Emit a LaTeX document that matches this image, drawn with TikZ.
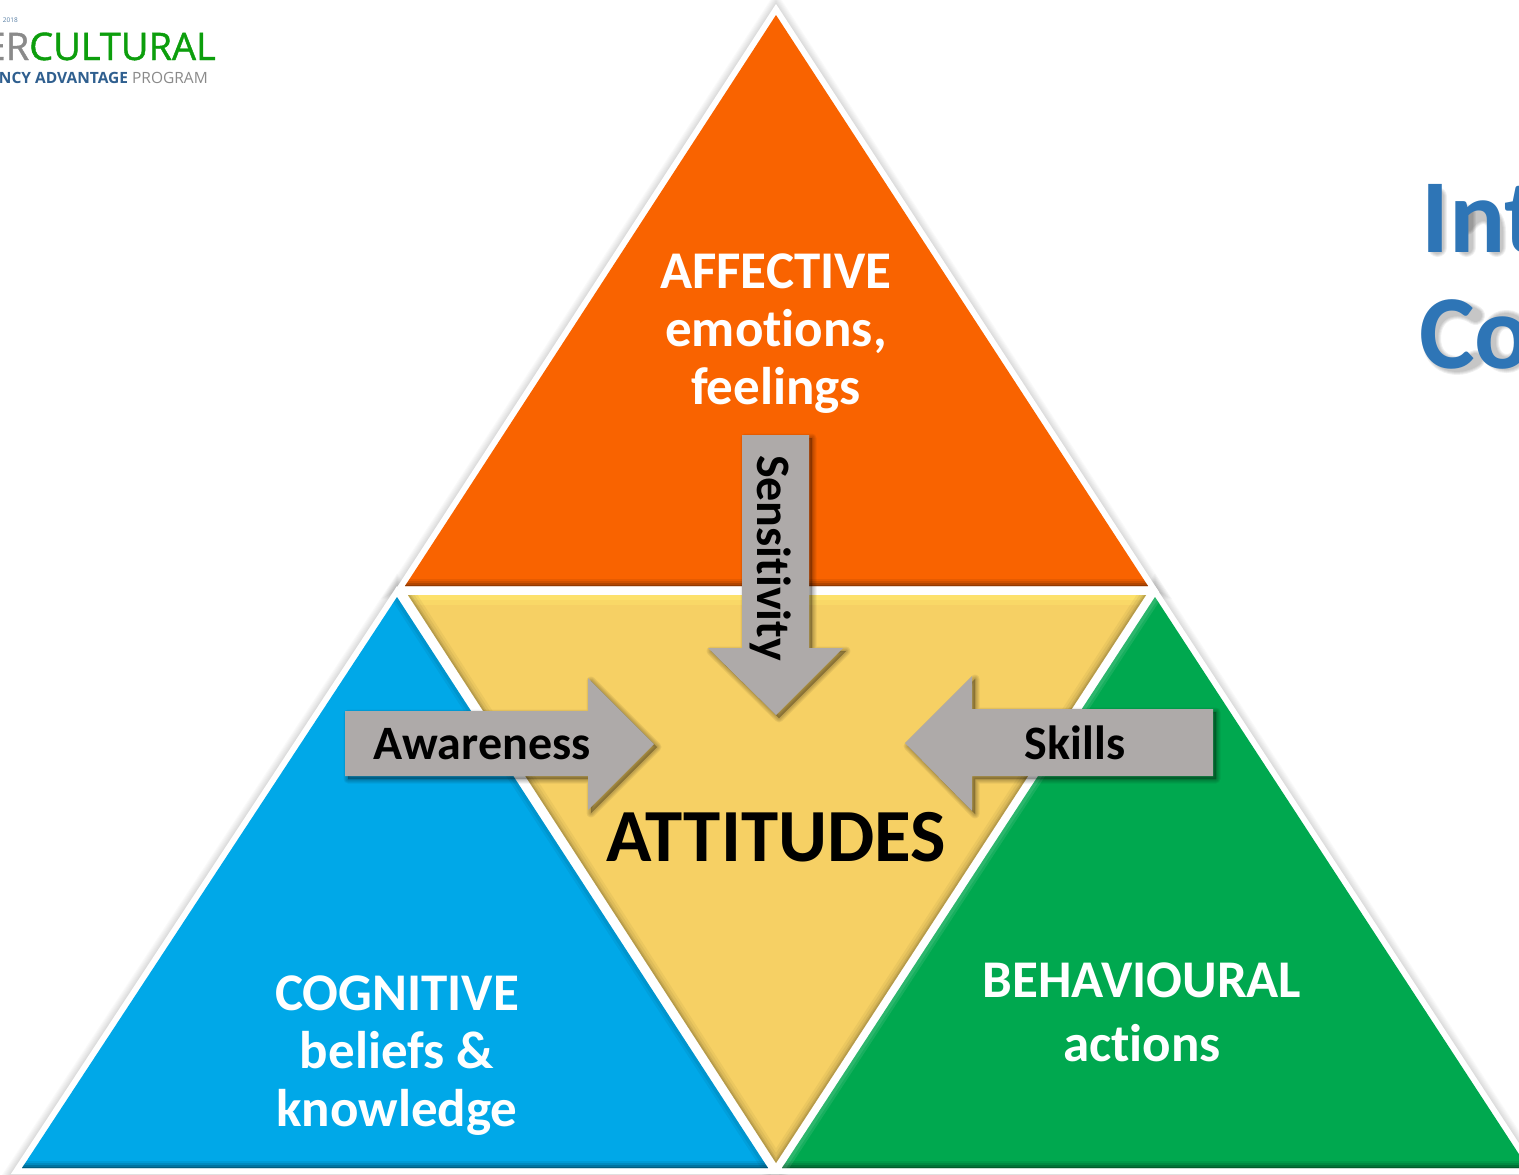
\documentclass[tikz,border=0pt]{standalone}
\usepackage{fontspec}
\setmainfont{Carlito}[Ligatures=NoCommon]
\newfontfamily\logofont{Open Sans}
\newfontfamily\logofontb{Open Sans}[FakeBold=1.1]
\usetikzlibrary{calc}
\definecolor{cOrange}{HTML}{F96300}
\definecolor{cBlue}{HTML}{00A8E8}
\definecolor{cGreen}{HTML}{00A84F}
\definecolor{cYellow}{HTML}{F6D064}
\definecolor{cYellowTop}{HTML}{FFE56D}
\definecolor{cGrey}{HTML}{AEAAA9}
\definecolor{cTitle}{HTML}{2E75B6}
\definecolor{cLogoGreen}{HTML}{0C9E0C}
\definecolor{cLogoBlue}{HTML}{2F5F8F}
\definecolor{cLogoGrey}{HTML}{8A8A8A}
\tikzset{
  lbl/.style={font=\bfseries\fontsize{53}{60}\selectfont,text=white,align=center,anchor=base,inner sep=0pt},
  arrowlbl/.style={font=\bfseries\fontsize{48}{52}\selectfont,text=black,anchor=base,inner sep=0pt},
  halo/.style={draw=black,opacity=.02,line join=miter,miter limit=20},
  rim/.style={draw=white,line width=12pt,line join=miter,miter limit=20},
  titleshade/.style={draw=black,opacity=.06,line cap=round},
}
\newcommand{\triOrange}{(776,15) -- (1148,586) -- (405,586) -- cycle}
\newcommand{\triBlue}{(397,597) -- (768,1168) -- (22,1168) -- cycle}
\newcommand{\triGreen}{(1155,597) -- (1528,1168) -- (782,1168) -- cycle}
\newcommand{\triYellow}{(408,595) -- (1146,595) -- (776,1163) -- cycle}
\newcommand{\arrAware}{(345,711) -- (588,711) -- (588,678) -- (654,744) -- (588,810) -- (588,776) -- (345,776) -- cycle}
\newcommand{\arrSkills}{(1213,709) -- (972,709) -- (972,676) -- (905,743) -- (972,811) -- (972,776) -- (1213,776) -- cycle}
\newcommand{\arrSens}{(742,435) -- (809,435) -- (809,648) -- (843,648) -- (776,715) -- (708,648) -- (742,648) -- cycle}
\newcommand{\softhalo}[1]{%
  \foreach \w in {26,24,22,20,18,16,14}{\path[halo,line width=\w pt] #1;}}
\newcommand{\softdrop}[1]{%
  \begin{scope}[shift={(3,3)}]
  \foreach \w in {9,7,5,3,1}{\fill[black,opacity=.06,draw=black,line width=\w pt,line join=round] #1;}
  \end{scope}}
\begin{document}
\begin{tikzpicture}[x=1pt,y=-1pt]
\useasboundingbox (0,0) rectangle (1519,1175);
\clip (0,0) rectangle (1519,1175);
\fill[white] (0,0) rectangle (1519,1175);
% logo
\node[anchor=base east,inner sep=0pt,font=\logofontb\fontsize{38}{38}\selectfont] (logoA) at (216,60)
  {\textcolor{cLogoGrey}{ER}\textcolor{cLogoGreen}{CULTURAL}};
\node[anchor=base east,inner sep=0pt,font=\logofont\bfseries\fontsize{15.5}{16}\selectfont] (logoB) at (208,83)
  {\textcolor{cLogoBlue}{NCY ADVANTAGE} \textcolor{cLogoGrey}{\mdseries PROGRAM}};
\node[anchor=base east,inner sep=0pt,font=\logofont\fontsize{6.5}{6.5}\selectfont,text=cLogoBlue!80] (logoC) at (18,22) {2018};
% title shadow, drawn as soft strokes under the letters
\begin{scope}[shift={(3.5,3.5)}]
  \foreach \w in {19,17,15,13}{
    \path[titleshade,line width=\w pt] (1434,193) -- (1434,244);
    \path[titleshade,line width=\w pt] (1463,210) -- (1463,244);
    \path[titleshade,line width=\w pt] (1463,222) .. controls (1475,205) and (1493,208) .. (1493,228) -- (1493,244);
    \path[titleshade,line width=\w pt] (1472,312) .. controls (1455,300) and (1428,306) .. (1428,335) .. controls (1428,362) and (1455,368) .. (1472,356);
    \path[titleshade,line width=\w pt] (1503,316) .. controls (1480,316) and (1480,360) .. (1503,360) .. controls (1526,360) and (1526,316) .. (1503,316);
  }
\end{scope}
% title
\node[anchor=base west,inner sep=0pt,font=\bfseries\fontsize{105}{105}\selectfont,text=cTitle] (titleA) at (1421,252) {Int};
\node[anchor=base west,inner sep=0pt,font=\bfseries\fontsize{105}{105}\selectfont,text=cTitle] (titleB) at (1419,368) {Co};
% halos and white rims
\softhalo{\triOrange}\softhalo{\triBlue}\softhalo{\triGreen}
\path[rim] \triOrange; \path[rim] \triBlue; \path[rim] \triGreen; \path[rim] \triYellow;
% orange
\fill[cOrange] \triOrange;
\begin{scope}
  \clip \triOrange;
  \foreach \w/\o in {14/.10,10/.14,6/.22,3/.3}{\draw[black!70!cOrange,opacity=\o,line width=\w pt] (405,586) -- (1148,586);}
\end{scope}
% blue
\fill[cBlue] \triBlue;
\begin{scope}
  \clip \triBlue;
  \foreach \w/\o in {14/.10,10/.16,6/.25,3/.35}{\draw[black!70!cBlue,opacity=\o,line width=\w pt] (22,1168) -- (768,1168);}
  \foreach \w/\o in {12/.07,7/.09}{\draw[black!70!cBlue,opacity=\o,line width=\w pt] (397,597) -- (768,1168);}
\end{scope}
% green
\fill[cGreen] \triGreen;
\begin{scope}
  \clip \triGreen;
  \foreach \w/\o in {14/.10,10/.16,6/.25,3/.35}{\draw[black!70!cGreen,opacity=\o,line width=\w pt] (782,1168) -- (1528,1168);}
  \foreach \w/\o in {12/.09,7/.09}{\draw[white,opacity=\o,line width=\w pt] (1155,597) -- (782,1168);}
\end{scope}
% yellow
\fill[cYellow] \triYellow;
\begin{scope}
  \clip \triYellow;
  \fill[cYellowTop,opacity=.4] (400,590) rectangle (1150,605);
  \fill[cYellowTop,opacity=.7] (400,590) rectangle (1150,600);
  \foreach \w/\o in {16/.07,11/.09,6/.14,3/.2}{
    \draw[black!60!cYellow,opacity=\o,line width=\w pt] (408,595) -- (776,1163) -- (1146,595);}
\end{scope}
% arrows
\softdrop{\arrAware}\softdrop{\arrSkills}\softdrop{\arrSens}
\fill[cGrey] \arrAware;
\fill[cGrey] \arrSkills;
\fill[cGrey] \arrSens;
% labels
\node[lbl] (affective) at (776,288) {AFFECTIVE};
\node[lbl] (emotions) at (776,346) {emotions,};
\node[lbl] (feelings) at (776,404) {feelings};
\node[lbl] (cognitive) at (397,1010) {COGNITIVE};
\node[lbl] (beliefs) at (397,1068) {beliefs \&};
\node[lbl] (knowledge) at (397,1126) {knowledge};
\node[lbl] (behavioural) at (1142,997) {BEHAVIOURAL};
\node[lbl] (actions) at (1142,1061) {actions};
\node[arrowlbl] (awareness) at (482,759) {Awareness};
\node[arrowlbl] (skills) at (1075,759) {Skills};
\node[arrowlbl,rotate=-90] (sensitivity) at (757,558) {Sensitivity};
\node[anchor=base,inner sep=0pt,font=\bfseries\fontsize{75}{75}\selectfont,text=black] (attitudes) at (776,861) {ATTITUDES};
\end{tikzpicture}
\end{document}
